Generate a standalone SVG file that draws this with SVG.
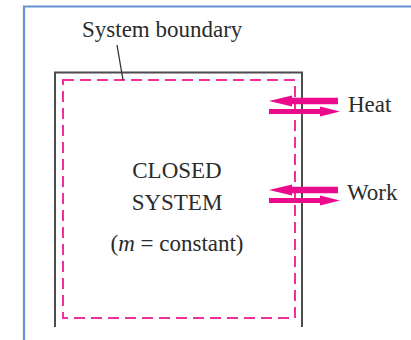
<svg xmlns="http://www.w3.org/2000/svg" xmlns:xlink="http://www.w3.org/1999/xlink" width="411" height="340" viewBox="0 0 411 340">
<style>
  .t{font-family:"Liberation Serif","Times New Roman",serif;font-size:23px;fill:#2b2b2b}
  .frame{fill:none;stroke:#6493d3;stroke-width:2.2}
  .wall{fill:none;stroke:#4d4d4d;stroke-width:2}
  .bnd{fill:none;stroke:#f0309a;stroke-width:2;stroke-dasharray:11 6}
  .arr{fill:#ec0a8c}
  .lead{stroke:#333;stroke-width:1.3;fill:none}
</style>
<defs>
  <path id="aL" d="M269,101 L292,95.5 L292,97.8 L338,97.8 L338,104.2 L292,104.2 L292,106.5 Z"/>
  <path id="aR" d="M340,111.5 L320,106.5 L320,109 L269,109 L269,114 L320,114 L320,116.5 Z"/>
</defs>
<rect width="411" height="340" fill="#fff"/>
<g id="frame">
  <path class="frame" d="M24,340 L24,6.5 L411,6.5"/>
</g>
<g id="closed-system">
  <path class="wall" d="M55,327 L55,72.5 L302,72.5 L302,327"/>
  <path class="bnd" d="M63,80 L295,80 L295,318 L63,318 Z"/>
  <text class="t" x="177" y="178" text-anchor="middle">CLOSED</text>
  <text class="t" x="177" y="210" text-anchor="middle">SYSTEM</text>
  <text class="t" x="177" y="251" text-anchor="middle">(<tspan font-style="italic">m</tspan> = constant)</text>
</g>
<g id="label-boundary">
  <text class="t" x="82" y="37">System boundary</text>
</g>
<g id="label-heat">
  <text class="t" x="348" y="112">Heat</text>
</g>
<g id="label-work">
  <text class="t" x="347" y="200">Work</text>
</g>
<g id="connectors">
  <path class="lead" d="M117,45 L123,80"/>
  <use xlink:href="#aL" class="arr"/>
  <use xlink:href="#aR" class="arr"/>
  <use xlink:href="#aL" class="arr" transform="translate(0,89)"/>
  <use xlink:href="#aR" class="arr" transform="translate(0,89)"/>
</g>
</svg>
